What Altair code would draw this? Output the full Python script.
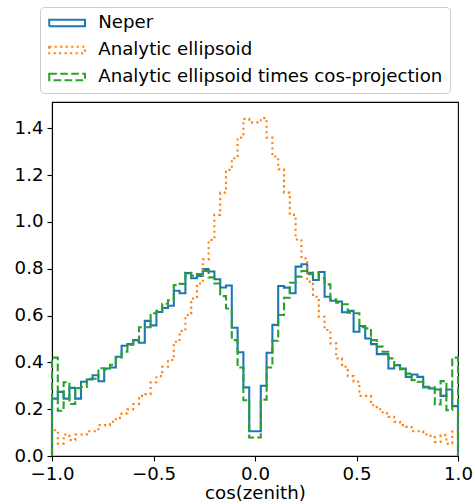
import altair as alt
import numpy as np
import pandas as pd

# 70 bins on cos(zenith) in [-1, 1]
N_BINS = 70
X_MIN, X_MAX = -1.0, 1.0

series_names = ["Neper", "Analytic ellipsoid", "Analytic ellipsoid times cos-projection"]

neper = [
    0.245, 0.274, 0.245, 0.291, 0.245, 0.317, 0.327, 0.345, 0.319, 0.374,
    0.378, 0.424, 0.471, 0.478, 0.495, 0.484, 0.577, 0.558, 0.615, 0.632,
    0.642, 0.706, 0.695, 0.781, 0.759, 0.769, 0.798, 0.788, 0.755, 0.720,
    0.728, 0.548, 0.443, 0.293, 0.106, 0.106, 0.300, 0.441, 0.560, 0.726,
    0.719, 0.695, 0.809, 0.819, 0.783, 0.752, 0.786, 0.680, 0.663, 0.660,
    0.614, 0.620, 0.531, 0.555, 0.502, 0.478, 0.435, 0.435, 0.374, 0.388,
    0.374, 0.338, 0.348, 0.338, 0.296, 0.289, 0.284, 0.257, 0.284, 0.213,
]

ellipsoid = [
    0.110, 0.053, 0.092, 0.068, 0.092, 0.092, 0.106, 0.106, 0.132, 0.132,
    0.146, 0.163, 0.182, 0.199, 0.222, 0.257, 0.264, 0.315, 0.341, 0.381,
    0.410, 0.488, 0.534, 0.602, 0.673, 0.737, 0.840, 0.923, 1.030, 1.125,
    1.222, 1.272, 1.360, 1.440, 1.425, 1.425, 1.443, 1.360, 1.279, 1.225,
    1.125, 1.030, 0.925, 0.844, 0.745, 0.680, 0.595, 0.538, 0.481, 0.417,
    0.381, 0.341, 0.317, 0.257, 0.257, 0.217, 0.200, 0.182, 0.167, 0.146,
    0.132, 0.125, 0.106, 0.106, 0.092, 0.086, 0.060, 0.089, 0.053, 0.104,
]

ellipsoid_cos = [
    0.420, 0.193, 0.315, 0.222, 0.290, 0.295, 0.330, 0.330, 0.375, 0.370,
    0.390, 0.420, 0.445, 0.475, 0.490, 0.550, 0.550, 0.610, 0.620, 0.650,
    0.665, 0.730, 0.735, 0.783, 0.770, 0.777, 0.790, 0.763, 0.737, 0.683,
    0.630, 0.495, 0.378, 0.238, 0.079, 0.079, 0.241, 0.378, 0.492, 0.602,
    0.676, 0.740, 0.766, 0.790, 0.777, 0.783, 0.759, 0.733, 0.669, 0.655,
    0.648, 0.612, 0.610, 0.550, 0.545, 0.495, 0.467, 0.445, 0.417, 0.388,
    0.371, 0.352, 0.324, 0.317, 0.293, 0.293, 0.220, 0.320, 0.196, 0.420,
]

colors = ["#1f77b4", "#ff7f0e", "#2ca02c"]
dashes = [[1, 0], [2.1, 3.4], [7.7, 3.3]]

edges = np.linspace(X_MIN, X_MAX, N_BINS + 1)

rows = []
for name, vals in zip(series_names, [neper, ellipsoid, ellipsoid_cos]):
    i = 0
    rows.append({"series": name, "x": X_MIN, "y": 0.0, "i": i}); i += 1
    for k, v in enumerate(vals):
        rows.append({"series": name, "x": float(edges[k]), "y": v, "i": i}); i += 1
    rows.append({"series": name, "x": X_MAX, "y": vals[-1], "i": i}); i += 1
    rows.append({"series": name, "x": X_MAX, "y": 0.0, "i": i}); i += 1
df = pd.DataFrame(rows)

FONT = "DejaVu Sans"
FS = 18.2

legend = alt.Legend(
    orient="none", legendX=-12, legendY=-95, title=None,
    symbolType="M-2.75,-0.5H2.75V0.5H-2.75Z", symbolSize=169, symbolStrokeWidth=2,
    symbolFillColor="transparent", symbolOffset=11,
    labelFontSize=FS, labelFont=FONT, labelColor="black", labelLimit=600,
    strokeColor="#cccccc", cornerRadius=4, padding=7, fillColor="white",
    rowPadding=8, labelOffset=22,
)

color_enc = alt.Color("series:N", scale=alt.Scale(domain=series_names, range=colors), legend=legend)
dash_enc = alt.StrokeDash("series:N", scale=alt.Scale(domain=series_names, range=dashes), legend=legend)

x_enc = alt.X("x:Q", scale=alt.Scale(domain=[X_MIN, X_MAX], nice=False, zero=False),
              axis=alt.Axis(values=[-1, -0.5, 0, 0.5, 1], format=".1f", title="cos(zenith)",
                            labelFlush=False))
y_enc = alt.Y("y:Q", scale=alt.Scale(domain=[0, 1.512], nice=False),
              axis=alt.Axis(values=[0, 0.2, 0.4, 0.6, 0.8, 1.0, 1.2, 1.4], format=".1f", title=None,
                            labelFlush=False))

layers = []
for name in series_names:
    layers.append(
        alt.Chart(df).transform_filter(alt.datum.series == name)
        .mark_line(interpolate="step-after", strokeWidth=2.1, clip=False)
        .encode(x=x_enc, y=y_enc, color=color_enc, strokeDash=dash_enc, order=alt.Order("i:Q"))
    )

chart = alt.layer(*layers).properties(
    width=406, height=354,
    autosize=alt.AutoSizeParams(type="none"),
    padding={"left": 52, "top": 102, "right": 17, "bottom": 48},
).configure_view(
    stroke="black", strokeWidth=1.1
).configure_axis(
    grid=False, domainColor="black", domainWidth=1.1, tickColor="black", tickWidth=1.1,
    tickSize=5, labelFont=FONT, labelFontSize=FS, labelColor="black",
    titleFont=FONT, titleFontSize=FS, titleFontWeight="normal", titleColor="black",
    labelPadding=4, labelOverlap=False,
).configure_axisX(
    titlePadding=2
)

chart.save("out.html", embed_options={"renderer": "svg", "actions": False})
